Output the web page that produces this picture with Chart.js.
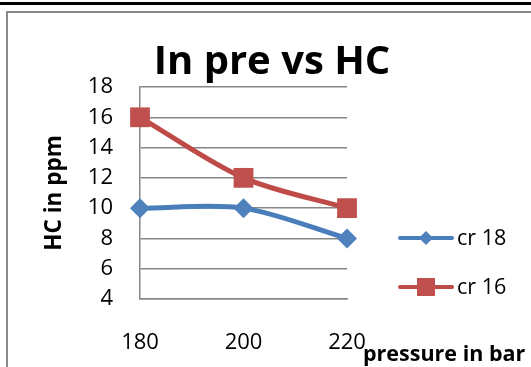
<!DOCTYPE html>
<html>
<head>
<meta charset="utf-8">
<script src="https://cdn.jsdelivr.net/npm/chart.js@4.4.1/dist/chart.umd.min.js"></script>
<style>
  html, body { margin:0; padding:0; background:#fff; }
  body { width:531px; height:367px; position:relative; overflow:hidden; font-family:'Open Sans', sans-serif; }
  #topline { position:absolute; left:0; top:2px; width:531px; height:3px; background:#000; }
  #frame { position:absolute; left:6px; top:11px; width:600px; height:420px; border:2px solid #898989; box-sizing:border-box; }
  #c { position:absolute; left:0; top:0; }
  #title { position:absolute; left:122px; top:39px; width:300px; text-align:center; font:bold 40px/40px 'Open Sans'; color:#000; white-space:nowrap; }
  #xtitle { position:absolute; left:363px; top:342px; font:bold 21.5px/21.5px 'Open Sans'; color:#000; white-space:nowrap; }
  .lrow { position:absolute; left:398px; height:21px; width:130px; }
  .lsym { position:absolute; left:0; top:0; width:56px; height:21px; }
  .lline { position:absolute; left:0; top:10px; width:56px; height:4px; border-radius:2px; }
  .lmark { position:absolute; }
  .ltext { position:absolute; left:59px; top:0; font:21.5px/21px 'Open Sans'; color:#000; white-space:nowrap; }
</style>
</head>
<body>
<div id="topline"></div>
<div id="frame"></div>
<canvas id="c" width="531" height="367"></canvas>
<div id="title">In pre vs HC</div>
<div id="xtitle">pressure in bar</div>
<div id="legend"></div>
<script>
// ---- data ----
const categories = ['180', '200', '220'];
const cr18 = [10, 10, 8];
const cr16 = [16, 12, 10];
const seriesNames = ['cr 18', 'cr 16'];
const yMin = 4, yMax = 18, yStep = 2;

const lineColors = ['#4A7EBB', '#BE4B48'];
const markColors = ['#4F81BD', '#C0504D'];

function build() {
  const ctx = document.getElementById('c').getContext('2d');
  new Chart(ctx, {
    type: 'line',
    data: {
      labels: categories,
      datasets: [
        { label: seriesNames[0], data: cr18, borderColor: lineColors[0], backgroundColor: markColors[0],
          borderWidth: 5, pointStyle: 'rectRot', pointRadius: 10, pointBorderWidth: 0,
          pointBackgroundColor: markColors[0], tension: 0.3, clip: false },
        { label: seriesNames[1], data: cr16, borderColor: lineColors[1], backgroundColor: markColors[1],
          borderWidth: 5, pointStyle: 'rect', pointRadius: 14, pointBorderWidth: 0,
          pointBackgroundColor: markColors[1], tension: 0.3, clip: false }
      ]
    },
    options: {
      responsive: false,
      animation: false,
      devicePixelRatio: 1,
      layout: { padding: { left: 0, right: 184, top: 87, bottom: 0 } },
      plugins: { legend: { display: false }, title: { display: false }, tooltip: { enabled: false } },
      scales: {
        x: {
          type: 'category', offset: false,
          grid: { display: false, drawTicks: false },
          border: { display: true, color: '#868686', width: 1.5 },
          ticks: { color: '#000', font: { family: 'Open Sans', size: 22 }, padding: 31, maxRotation: 0, autoSkip: false },
          afterFit(s) { s.height = 68; }
        },
        y: {
          min: yMin, max: yMax,
          ticks: { stepSize: yStep, color: '#000', font: { family: 'Open Sans', size: 22 }, padding: 27 },
          grid: { color: '#868686', lineWidth: 1.5, drawTicks: false },
          border: { display: true, color: '#868686', width: 1.5 },
          title: { display: true, text: 'HC in ppm', color: '#000',
                   font: { family: 'Open Sans', size: 22.5, weight: 'bold' }, padding: { top: 41, bottom: 0 } },
          afterFit(s) { s.width = 140; }
        }
      }
    }
  });

  // HTML legend built from series names
  const leg = document.getElementById('legend');
  const tops = [226, 275];
  seriesNames.forEach((name, i) => {
    const row = document.createElement('div');
    row.className = 'lrow';
    row.style.top = tops[i] + 'px';
    const sym = document.createElement('div');
    sym.className = 'lsym';
    const ln = document.createElement('div');
    ln.className = 'lline';
    ln.style.background = lineColors[i];
    sym.appendChild(ln);
    const mk = document.createElement('div');
    mk.className = 'lmark';
    mk.style.background = markColors[i];
    if (i === 0) {
      mk.style.width = '10px'; mk.style.height = '10px';
      mk.style.left = (28 - 5) + 'px'; mk.style.top = (12 - 5) + 'px';
      mk.style.transform = 'rotate(45deg)';
    } else {
      mk.style.width = '18px'; mk.style.height = '18px';
      mk.style.left = (28 - 9) + 'px'; mk.style.top = (12 - 9) + 'px';
    }
    sym.appendChild(mk);
    row.appendChild(sym);
    const tx = document.createElement('div');
    tx.className = 'ltext';
    tx.textContent = name;
    row.appendChild(tx);
    leg.appendChild(row);
  });
}

if (document.fonts && document.fonts.load) {
  Promise.all([
    document.fonts.load("21px 'Open Sans'"),
    document.fonts.load("bold 22px 'Open Sans'")
  ]).then(build, build);
} else { build(); }
</script>
</body>
</html>
